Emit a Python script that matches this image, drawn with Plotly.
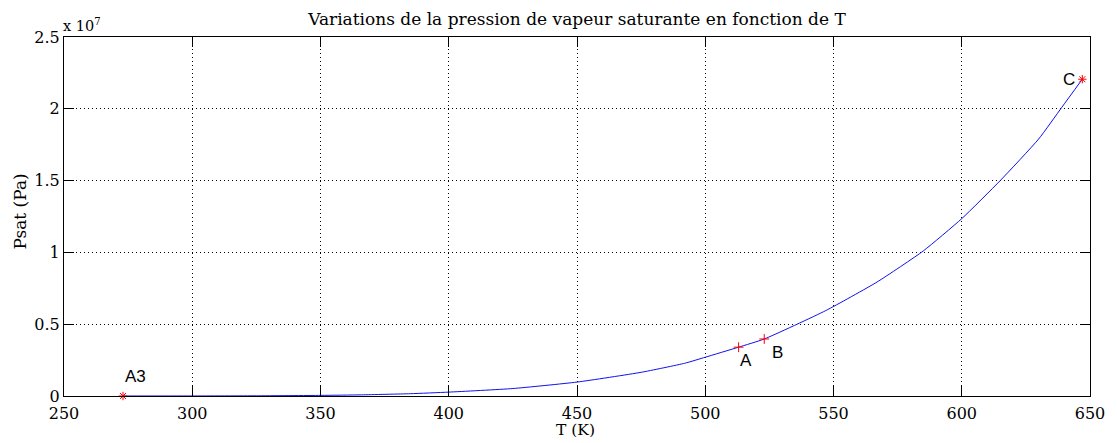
import plotly.graph_objects as go

# Saturation curve
T_K = [273, 300, 325, 350, 366, 385, 400, 425, 450, 475, 492, 500, 513, 523,
       547, 567, 585, 600, 615, 630, 639, 647]
Psat_Pa = [600, 3.5e3, 1.3e4, 4.2e4, 8.0e4, 1.6e5, 2.7e5, 5.2e5, 9.7e5, 1.65e6,
           2.28e6, 2.7e6, 3.4e6, 3.97e6, 5.95e6, 7.94e6, 10.1e6, 12.35e6, 15.0e6,
           17.9e6, 20.1e6, 22.06e6]

# Marked points
plus_names = ["A", "B"]
plus_T = [513, 523]
plus_P = [3.4e6, 3.97e6]
star_names = ["A3", "C"]
star_T = [273, 647]
star_P = [600, 22.06e6]

x_ticks = [250, 300, 350, 400, 450, 500, 550, 600, 650]
y_tickvals = [0, 5e6, 10e6, 15e6, 20e6, 25e6]
y_ticktext = ["0", "0.5", "1", "1.5", "2", "2.5"]

serif = "DejaVu Serif"
sans = "Liberation Sans"

fig = go.Figure()
fig.add_trace(go.Scatter(x=T_K, y=Psat_Pa, mode="lines",
                         line=dict(color="#1010ee", width=1, shape="spline", smoothing=0.5),
                         showlegend=False, hoverinfo="skip"))
fig.add_trace(go.Scatter(x=plus_T, y=plus_P, mode="markers",
                         marker=dict(symbol="cross-thin", size=7,
                                     line=dict(color="#ff0000", width=1)),
                         showlegend=False))
fig.add_trace(go.Scatter(x=star_T, y=star_P, mode="markers",
                         marker=dict(symbol="asterisk", size=7,
                                     line=dict(color="#ff0000", width=1)),
                         showlegend=False, cliponaxis=False))

label_pos = {
    "A3": dict(xshift=0, yshift=8, xanchor="left", yanchor="bottom"),
    "A": dict(xshift=-1, yshift=-2, xanchor="left", yanchor="top"),
    "B": dict(xshift=6, yshift=-2, xanchor="left", yanchor="top"),
    "C": dict(xshift=-5, yshift=0, xanchor="right", yanchor="middle"),
}
for n, t, p in list(zip(plus_names, plus_T, plus_P)) + list(zip(star_names, star_T, star_P)):
    fig.add_annotation(x=t, y=p, text=n, showarrow=False,
                       font=dict(family=sans, size=17, color="black"), **label_pos[n])

fig.add_annotation(xref="paper", yref="paper", x=0, y=1, text="x 10<sup>7</sup>",
                   showarrow=False, xanchor="left", yanchor="bottom", xshift=-3, yshift=1,
                   font=dict(family=serif, size=14.5, color="black"))

# axis titles as annotations for exact placement
fig.add_annotation(xref="paper", yref="paper", x=0.5, y=0, text="T (K)",
                   showarrow=False, xanchor="center", yanchor="middle", yshift=-34, xshift=-2,
                   font=dict(family=serif, size=15.5, color="black"))
fig.add_annotation(xref="paper", yref="paper", x=0, y=0.5, text="Psat (Pa)",
                   showarrow=False, xanchor="center", yanchor="middle", xshift=-45, yshift=5,
                   textangle=-90, font=dict(family=serif, size=17, color="black"))

axis_common = dict(showline=True, linecolor="black", linewidth=1, mirror="ticks",
                   ticks="inside", ticklen=10, tickcolor="black", tickwidth=1,
                   showgrid=True, gridcolor="black", griddash="1px,3px", gridwidth=1,
                   zeroline=False,
                   tickfont=dict(family=serif, size=16, color="black"))

fig.update_layout(
    width=1117, height=443,
    margin=dict(l=64, r=21, t=37, b=47),
    paper_bgcolor="white", plot_bgcolor="white",
    title=dict(text="Variations de la pression de vapeur saturante en fonction de T",
               x=0.5, xref="paper", xanchor="center", y=0.956, yanchor="middle",
               font=dict(family=serif, size=17, color="black")),
    xaxis=dict(range=[250, 650], tickvals=x_ticks, ticklabelstandoff=3, **axis_common),
    yaxis=dict(range=[0, 25e6], tickvals=y_tickvals, ticktext=y_ticktext, **axis_common),
)

fig.write_html("out.html")
